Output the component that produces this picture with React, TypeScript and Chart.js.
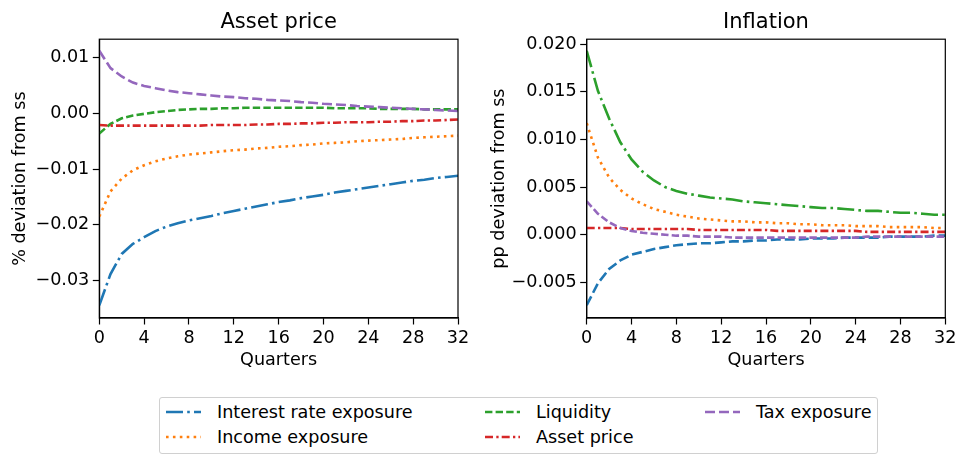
import { useEffect, useRef } from "react";
import { Chart, registerables } from "chart.js";

Chart.register(...registerables);

// Horizon in quarters
const quarters = [0, 1, 2, 3, 4, 5, 6, 7, 8, 9, 10, 11, 12, 13, 14, 15, 16, 17, 18, 19, 20, 21, 22, 23, 24, 25, 26, 27, 28, 29, 30, 31, 32];

const seriesNames = ["Interest rate exposure", "Income exposure", "Liquidity", "Asset price", "Tax exposure"];
const seriesColors = ["#1f77b4", "#ff7f0e", "#2ca02c", "#d62728", "#9467bd"];

// Asset price responses, % deviation from steady state
const assetInterestRate = [-0.0344, -0.0288, -0.0252, -0.0234, -0.0222, -0.0211, -0.0203, -0.0197, -0.0192, -0.0188, -0.0184, -0.0179, -0.0175, -0.0171, -0.0167, -0.0163, -0.0159, -0.0156, -0.0152, -0.0149, -0.0146, -0.0142, -0.0139, -0.0136, -0.0133, -0.013, -0.0127, -0.0124, -0.0121, -0.0119, -0.0116, -0.0114, -0.0112];
const assetIncome = [-0.0185, -0.014, -0.0117, -0.0102, -0.0093, -0.0086, -0.0081, -0.0077, -0.0074, -0.0072, -0.007, -0.0068, -0.0066, -0.0065, -0.0063, -0.0062, -0.006, -0.0059, -0.0057, -0.0056, -0.0054, -0.0053, -0.0052, -0.005, -0.0049, -0.0048, -0.0047, -0.0046, -0.0044, -0.0043, -0.0042, -0.0041, -0.004];
const assetLiquidity = [-0.0036, -0.0019, -0.0009, -0.0004, -0.0001, 0.0002, 0.0004, 0.0006, 0.0007, 0.0008, 0.0008, 0.0009, 0.0009, 0.001, 0.001, 0.001, 0.001, 0.001, 0.001, 0.001, 0.001, 0.0009, 0.0009, 0.0009, 0.0009, 0.0008, 0.0008, 0.0008, 0.0008, 0.0007, 0.0007, 0.0007, 0.0007];
const assetAssetPrice = [-0.0021, -0.0022, -0.0022, -0.0022, -0.0022, -0.0022, -0.0022, -0.0022, -0.0022, -0.0022, -0.0021, -0.0021, -0.0021, -0.0021, -0.002, -0.002, -0.0019, -0.0019, -0.0018, -0.0018, -0.0017, -0.0017, -0.0016, -0.0016, -0.0016, -0.0015, -0.0015, -0.0014, -0.0014, -0.0013, -0.0013, -0.0012, -0.0011];
const assetTax = [0.0112, 0.0081, 0.0066, 0.0055, 0.0049, 0.0045, 0.0041, 0.0038, 0.0036, 0.0034, 0.0032, 0.003, 0.0029, 0.0027, 0.0026, 0.0024, 0.0023, 0.0022, 0.002, 0.0019, 0.0017, 0.0016, 0.0015, 0.0013, 0.0012, 0.0011, 0.001, 0.0009, 0.0008, 0.0007, 0.0006, 0.0005, 0.0004];

// Inflation responses, pp deviation from steady state
const inflInterestRate = [-0.0074, -0.0051, -0.0036, -0.0027, -0.0021, -0.0018, -0.0015, -0.0013, -0.0011, -0.001, -0.0009, -0.0009, -0.0008, -0.0007, -0.0007, -0.0006, -0.0006, -0.0005, -0.0005, -0.0005, -0.0004, -0.0004, -0.0004, -0.0003, -0.0003, -0.0003, -0.0003, -0.0002, -0.0002, -0.0002, -0.0002, -0.0001, -0.0001];
const inflIncome = [0.0117, 0.0081, 0.006, 0.0047, 0.0038, 0.0032, 0.0027, 0.0024, 0.0021, 0.0019, 0.0017, 0.0016, 0.0015, 0.0014, 0.0014, 0.0013, 0.0013, 0.0012, 0.0012, 0.0011, 0.0011, 0.001, 0.001, 0.001, 0.0009, 0.0009, 0.0009, 0.0008, 0.0008, 0.0008, 0.0008, 0.0007, 0.0007];
const inflLiquidity = [0.0193, 0.0151, 0.0122, 0.0097, 0.0079, 0.0066, 0.0057, 0.005, 0.0046, 0.0043, 0.0041, 0.0039, 0.0038, 0.0037, 0.0035, 0.0034, 0.0033, 0.0032, 0.0031, 0.003, 0.0029, 0.0028, 0.0028, 0.0027, 0.0026, 0.0025, 0.0025, 0.0024, 0.0023, 0.0023, 0.0022, 0.0021, 0.0021];
const inflAssetPrice = [0.0007, 0.0007, 0.0007, 0.0007, 0.0006, 0.0006, 0.0006, 0.0006, 0.0006, 0.0006, 0.0005, 0.0005, 0.0005, 0.0005, 0.0005, 0.0005, 0.0005, 0.0004, 0.0004, 0.0004, 0.0004, 0.0004, 0.0004, 0.0004, 0.0004, 0.0003, 0.0003, 0.0003, 0.0003, 0.0003, 0.0003, 0.0003, 0.0003];
const inflTax = [0.0035, 0.0022, 0.0013, 0.0007, 0.0004, 0.0002, 0.0001, 0.0, -0.0001, -0.0001, -0.0002, -0.0002, -0.0002, -0.0003, -0.0003, -0.0003, -0.0003, -0.0003, -0.0003, -0.0003, -0.0003, -0.0003, -0.0003, -0.0003, -0.0003, -0.0002, -0.0002, -0.0002, -0.0002, -0.0002, -0.0002, -0.0002, -0.0002];

// Dash patterns (px)
const DASHDOT_LONG = [17, 4.2, 2.6, 4.2];
const DOTTED = [2.6, 4.3];
const DASH_SHORT = [7.4, 3.2];
const DASHDOT_SHORT = [8, 3.3, 2.3, 3.1];
const DASH_LONG = [10, 4];

const assetDashes = [DASHDOT_LONG, DOTTED, DASH_SHORT, DASHDOT_SHORT, DASH_LONG];
const inflDashes = [DASH_LONG, DOTTED, DASHDOT_LONG, DASHDOT_SHORT, DASH_SHORT];

const FONT = "'DejaVu Sans', sans-serif";
const FONT_SIZE = 17.6;
const LINE_W = 2.6;

const framePlugin = {
  id: "frame",
  afterDraw(chart: any) {
    const { ctx, chartArea: a } = chart;
    ctx.save();
    ctx.strokeStyle = "#000";
    ctx.lineWidth = 1.2;
    ctx.strokeRect(a.left, a.top, a.right - a.left, a.bottom - a.top);
    ctx.restore();
  },
};

function fmt(decimals: number) {
  return (v: any) => {
    const n = Number(v);
    if (Math.abs(n) < 1e-12) return (0).toFixed(decimals);
    return (n < 0 ? "\u2212" : "") + Math.abs(n).toFixed(decimals);
  };
}

type PanelProps = {
  title: string;
  yLabel: string;
  series: number[][];
  dashes: number[][];
  yMin: number;
  yMax: number;
  yStep: number;
  decimals: number;
  yAxisWidth: number;
  rightPad: number;
  yTitlePad: number;
};

function Panel(p: PanelProps) {
  const ref = useRef<HTMLCanvasElement | null>(null);
  useEffect(() => {
    if (!ref.current) return;
    const datasets = p.series.map((vals, i) => ({
      label: seriesNames[i],
      data: quarters.map((q, j) => ({ x: q, y: vals[j] })),
      borderColor: seriesColors[i],
      backgroundColor: seriesColors[i],
      borderWidth: LINE_W,
      borderDash: p.dashes[i],
      borderCapStyle: "butt" as const,
      pointRadius: 0,
      tension: 0,
      fill: false,
      order: p.series.length - i,
    }));
    const chart = new Chart(ref.current, {
      type: "line",
      data: { datasets },
      options: {
        animation: false,
        responsive: false,
        layout: { padding: { left: 0, right: p.rightPad, top: 0, bottom: 0 } },
        plugins: {
          legend: { display: false },
          tooltip: { enabled: false },
          title: {
            display: true,
            text: p.title,
            fullSize: false,
            color: "#000",
            font: { family: FONT, size: 21, weight: "normal" as any, lineHeight: 1.2 },
            padding: { top: 10, bottom: 4 },
          },
        },
        scales: {
          x: {
            type: "linear",
            min: 0,
            max: 32,
            afterFit: (s: any) => {
              s.height = 57;
            },
            ticks: {
              stepSize: 4,
              color: "#000",
              font: { family: FONT, size: FONT_SIZE },
              padding: 3.5,
              maxRotation: 0,
              autoSkip: false,
              includeBounds: false,
            },
            grid: { drawOnChartArea: false, drawTicks: true, tickLength: 6.5, tickColor: "#000", tickWidth: 1.2 },
            border: { display: true, color: "#000", width: 1.2 },
            title: {
              display: true,
              text: "Quarters",
              color: "#000",
              font: { family: FONT, size: FONT_SIZE, lineHeight: 1.2 },
              padding: { top: 0, bottom: 4 },
            },
          },
          y: {
            type: "linear",
            min: p.yMin,
            max: p.yMax,
            afterFit: (s: any) => {
              s.width = p.yAxisWidth;
            },
            ticks: {
              stepSize: p.yStep,
              color: "#000",
              font: { family: FONT, size: FONT_SIZE },
              padding: 3.5,
              includeBounds: false,
              callback: fmt(p.decimals),
            },
            grid: { drawOnChartArea: false, drawTicks: true, tickLength: 6.5, tickColor: "#000", tickWidth: 1.2 },
            border: { display: true, color: "#000", width: 1.2 },
            title: {
              display: true,
              text: p.yLabel,
              color: "#000",
              font: { family: FONT, size: FONT_SIZE, lineHeight: 1.2 },
              padding: { top: p.yTitlePad, bottom: 0 },
            },
          },
        },
      } as any,
      plugins: [framePlugin],
    });
    return () => chart.destroy();
  }, []);
  return <canvas ref={ref} width={480} height={375} style={{ display: "block" }} />;
}

const legendItems = [
  { name: seriesNames[0], color: seriesColors[0], dash: DASHDOT_LONG, x: 6, row: 0 },
  { name: seriesNames[1], color: seriesColors[1], dash: DOTTED, x: 6, row: 1 },
  { name: seriesNames[2], color: seriesColors[2], dash: DASH_SHORT, x: 325, row: 0 },
  { name: seriesNames[3], color: seriesColors[3], dash: DASHDOT_SHORT, x: 325, row: 1 },
  { name: seriesNames[4], color: seriesColors[4], dash: DASH_LONG, x: 545, row: 0 },
];

function Legend() {
  return (
    <div
      style={{
        position: "absolute",
        left: 159,
        top: 397,
        width: 719,
        height: 57,
        boxSizing: "border-box",
        border: "1px solid #d0d0d0",
        borderRadius: 3,
        background: "#fff",
        fontFamily: FONT,
        fontSize: FONT_SIZE,
        color: "#000",
      }}
    >
      {legendItems.map((it) => (
        <div
          key={it.name}
          style={{
            position: "absolute",
            left: it.x,
            top: (it.row === 0 ? 14 : 38.5) - 12,
            height: 24,
            lineHeight: "24px",
            display: "flex",
            alignItems: "center",
            whiteSpace: "nowrap",
          }}
        >
          <svg width={35} height={24} style={{ display: "block", marginRight: 16 }}>
            <line
              x1={0}
              y1={12}
              x2={35}
              y2={12}
              stroke={it.color}
              strokeWidth={LINE_W}
              strokeDasharray={it.dash.join(" ")}
              strokeLinecap="butt"
            />
          </svg>
          <span>{it.name}</span>
        </div>
      ))}
    </div>
  );
}

export default function App() {
  return (
    <div style={{ position: "fixed", left: 0, top: 0, width: 960, height: 455, background: "#fff", overflow: "hidden" }}>
      <div style={{ position: "absolute", left: 0, top: 0 }}>
        <Panel
          title="Asset price"
          yLabel="% deviation from ss"
          series={[assetInterestRate, assetIncome, assetLiquidity, assetAssetPrice, assetTax]}
          dashes={assetDashes}
          yMin={-0.03668}
          yMax={0.01328}
          yStep={0.01}
          decimals={2}
          yAxisWidth={99.3}
          rightPad={22}
          yTitlePad={9.6}
        />
      </div>
      <div style={{ position: "absolute", left: 480, top: 0 }}>
        <Panel
          title="Inflation"
          yLabel="pp deviation from ss"
          series={[inflInterestRate, inflIncome, inflLiquidity, inflAssetPrice, inflTax]}
          dashes={inflDashes}
          yMin={-0.00874}
          yMax={0.02052}
          yStep={0.005}
          decimals={3}
          yAxisWidth={106.7}
          rightPad={14.3}
          yTitlePad={8.6}
        />
      </div>
      <Legend />
    </div>
  );
}
